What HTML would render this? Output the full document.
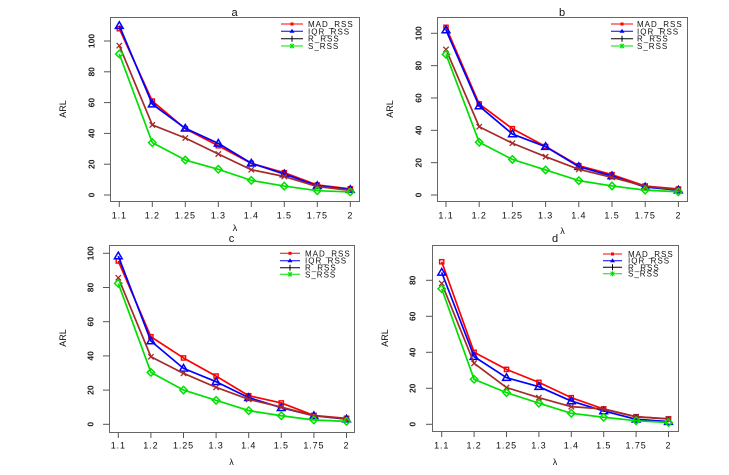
<!DOCTYPE html>
<html><head><meta charset="utf-8">
<style>
html,body{margin:0;padding:0;background:#fff;}
svg{display:block;font-family:"Liberation Sans",sans-serif;}
.xt{font-size:9px;letter-spacing:0.9px;text-anchor:middle;fill:#111;}
.yt{font-size:8.5px;font-weight:bold;text-anchor:middle;fill:#222;}
.ti{font-size:11px;text-anchor:middle;fill:#111;}
.lb{font-size:9px;text-anchor:middle;fill:#111;}
.lg{font-size:8px;letter-spacing:1px;fill:#111;}
</style></head><body>
<svg id="s" width="729" height="475" viewBox="0 0 729 475" xmlns="http://www.w3.org/2000/svg">
<rect width="729" height="475" fill="#fff"/>
<g id="g"></g>

<!-- Panel a text -->
<text class="ti" x="234.5" y="16">a</text>
<text class="lb" x="235" y="231">λ</text>
<text class="lb" transform="rotate(-90 66 109)" x="66" y="109">ARL</text>
<g class="xt">
<text x="119.3" y="218.5">1.1</text><text x="152.3" y="218.5">1.2</text><text x="185.3" y="218.5">1.25</text><text x="218.3" y="218.5">1.3</text><text x="251.3" y="218.5">1.4</text><text x="284.3" y="218.5">1.5</text><text x="317.3" y="218.5">1.75</text><text x="350.3" y="218.5">2</text>
</g>
<g class="yt">
<text transform="rotate(-90 94.4 195)" x="94.4" y="195">0</text>
<text transform="rotate(-90 94.4 164.2)" x="94.4" y="164.2">20</text>
<text transform="rotate(-90 94.4 133.4)" x="94.4" y="133.4">40</text>
<text transform="rotate(-90 94.4 102.6)" x="94.4" y="102.6">60</text>
<text transform="rotate(-90 94.4 71.8)" x="94.4" y="71.8">80</text>
<text transform="rotate(-90 94.4 41)" x="94.4" y="41">100</text>
</g>
<g class="lg">
<text x="308" y="27">MAD_RSS</text><text x="308" y="34.3">IQR_RSS</text><text x="308" y="41.7">R_RSS</text><text x="308" y="49">S_RSS</text>
</g>

<!-- Panel b text -->
<text class="ti" x="562" y="16">b</text>
<text class="lb" x="562.5" y="234">λ</text>
<text class="lb" transform="rotate(-90 393 109)" x="393" y="109">ARL</text>
<g class="xt">
<text x="446" y="218.5">1.1</text><text x="479.2" y="218.5">1.2</text><text x="512.4" y="218.5">1.25</text><text x="545.6" y="218.5">1.3</text><text x="578.8" y="218.5">1.4</text><text x="612" y="218.5">1.5</text><text x="645.2" y="218.5">1.75</text><text x="678.4" y="218.5">2</text>
</g>
<g class="yt">
<text transform="rotate(-90 421.4 195)" x="421.4" y="195">0</text>
<text transform="rotate(-90 421.4 162.7)" x="421.4" y="162.7">20</text>
<text transform="rotate(-90 421.4 130.3)" x="421.4" y="130.3">40</text>
<text transform="rotate(-90 421.4 98)" x="421.4" y="98">60</text>
<text transform="rotate(-90 421.4 65.6)" x="421.4" y="65.6">80</text>
<text transform="rotate(-90 421.4 33.3)" x="421.4" y="33.3">100</text>
</g>
<g class="lg">
<text x="637" y="27">MAD_RSS</text><text x="637" y="34.3">IQR_RSS</text><text x="637" y="41.7">R_RSS</text><text x="637" y="49">S_RSS</text>
</g>

<!-- Panel c text -->
<text class="ti" x="231.5" y="242">c</text>
<text class="lb" x="231.5" y="465">λ</text>
<text class="lb" transform="rotate(-90 66 338)" x="66" y="338">ARL</text>
<g class="xt">
<text x="118.3" y="448.5">1.1</text><text x="150.9" y="448.5">1.2</text><text x="183.5" y="448.5">1.25</text><text x="216.1" y="448.5">1.3</text><text x="248.7" y="448.5">1.4</text><text x="281.3" y="448.5">1.5</text><text x="313.9" y="448.5">1.75</text><text x="346.5" y="448.5">2</text>
</g>
<g class="yt">
<text transform="rotate(-90 93.4 424.3)" x="93.4" y="424.3">0</text>
<text transform="rotate(-90 93.4 390.1)" x="93.4" y="390.1">20</text>
<text transform="rotate(-90 93.4 355.9)" x="93.4" y="355.9">40</text>
<text transform="rotate(-90 93.4 321.7)" x="93.4" y="321.7">60</text>
<text transform="rotate(-90 93.4 287.5)" x="93.4" y="287.5">80</text>
<text transform="rotate(-90 93.4 253.3)" x="93.4" y="253.3">100</text>
</g>
<g class="lg">
<text x="305" y="256.3">MAD_RSS</text><text x="305" y="263.7">IQR_RSS</text><text x="305" y="270.7">R_RSS</text><text x="305" y="277.3">S_RSS</text>
</g>

<!-- Panel d text -->
<text class="ti" x="555" y="242">d</text>
<text class="lb" x="555" y="465">λ</text>
<text class="lb" transform="rotate(-90 388 338)" x="388" y="338">ARL</text>
<g class="xt">
<text x="441.7" y="448.5">1.1</text><text x="474.1" y="448.5">1.2</text><text x="506.5" y="448.5">1.25</text><text x="538.9" y="448.5">1.3</text><text x="571.3" y="448.5">1.4</text><text x="603.7" y="448.5">1.5</text><text x="636.1" y="448.5">1.75</text><text x="668.5" y="448.5">2</text>
</g>
<g class="yt">
<text transform="rotate(-90 415.6 424.3)" x="415.6" y="424.3">0</text>
<text transform="rotate(-90 415.6 388.3)" x="415.6" y="388.3">20</text>
<text transform="rotate(-90 415.6 352.3)" x="415.6" y="352.3">40</text>
<text transform="rotate(-90 415.6 316.3)" x="415.6" y="316.3">60</text>
<text transform="rotate(-90 415.6 280.3)" x="415.6" y="280.3">80</text>
</g>
<g class="lg">
<text x="628" y="257">MAD_RSS</text><text x="628" y="263.7">IQR_RSS</text><text x="628" y="270.3">R_RSS</text><text x="628" y="276.7">S_RSS</text>
</g>
</svg>
<script>
(function(){
var cols=['#ff0000','#0000ff','#a52a2a','#00e000'];
var P=[
 {bx:110,by:17,bw:249,bh:184,x0:119.3,dx:33,y0:195,k:1.54,yt:[0,20,40,60,80,100],
  lx1:281,lx2:303,ly:[24,31.3,38.7,46],
  d:[[108,61,43,32,20.5,14.5,6.5,4],[110,59,43.3,33.5,20.6,13.6,6,3.5],[97,45.5,37,26.6,16.4,12,5.5,3],[91.6,34,22.7,16.7,9.5,5.8,2.8,2]]},
 {bx:437,by:17,bw:250,bh:184,x0:446,dx:33.2,y0:195,k:1.617,yt:[0,20,40,60,80,100],
  lx1:611,lx2:633,ly:[24,31.3,38.7,46],
  d:[[103.7,56.3,41,30,18.1,12.6,5.5,3.7],[102,55,37.7,29.9,17.5,11.8,4.9,3],[90,42.2,32,23.7,15.9,10.9,5.5,3.3],[87,32.6,22,15.5,8.9,5.6,3,2]]},
 {bx:109,by:245,bw:245,bh:187,x0:118.3,dx:32.6,y0:424.3,k:1.71,yt:[0,20,40,60,80,100],
  lx1:280,lx2:300,ly:[253.3,260.7,267.7,274.3],
  d:[[95.5,51.2,38.8,28.2,16.7,12.5,5.2,3.5],[98.4,48.7,32.7,24.9,15.6,9.7,5,3],[85.7,39.5,29.8,21.6,14.6,10.1,5,3.2],[82.4,30.4,20,14,8,5,2.5,1.7]]},
 {bx:432,by:245,bw:246,bh:186,x0:441.7,dx:32.4,y0:424.3,k:1.8,yt:[0,20,40,60,80],
  lx1:603,lx2:622,ly:[254,260.7,267.3,273.7],
  d:[[90.3,40,30.5,23.3,14.8,8.5,4.2,3],[84.4,37.6,25.9,20.9,12.9,7.4,2.8,1.5],[78.3,33.9,20.4,14.8,9.8,8.5,4.2,3],[75.3,25,17.6,11.7,6.1,3.9,2,1]]}
];
var h='';
function f(n){return Math.round(n*100)/100;}
function mk(t,cx,cy,c){
  if(t==0){var r=2.1;return '<rect x="'+f(cx-r)+'" y="'+f(cy-r)+'" width="'+f(2*r)+'" height="'+f(2*r)+'" fill="none" stroke="'+c+'" stroke-width="1.4"/>';}
  if(t==1){var a=3.9;return '<polygon points="'+f(cx)+','+f(cy-a)+' '+f(cx-a)+','+f(cy+a*0.7)+' '+f(cx+a)+','+f(cy+a*0.7)+'" fill="none" stroke="'+c+'" stroke-width="1.5"/>';}
  if(t==2){var b=2.7;return '<path d="M'+f(cx-b)+' '+f(cy-b)+'L'+f(cx+b)+' '+f(cy+b)+'M'+f(cx-b)+' '+f(cy+b)+'L'+f(cx+b)+' '+f(cy-b)+'" stroke="'+c+'" stroke-width="1.3"/>';}
  var q=3.7;return '<polygon points="'+f(cx)+','+f(cy-q)+' '+f(cx+q)+','+f(cy)+' '+f(cx)+','+f(cy+q)+' '+f(cx-q)+','+f(cy)+'" fill="none" stroke="'+c+'" stroke-width="1.5"/>';
}
P.forEach(function(p){
  h+='<rect x="'+p.bx+'.5" y="'+p.by+'.5" width="'+p.bw+'" height="'+p.bh+'" fill="none" stroke="#666" stroke-width="1"/>';
  var bb=p.by+p.bh;
  for(var i=0;i<8;i++){var x=p.x0+p.dx*i;h+='<line x1="'+f(x)+'" y1="'+(bb+0.5)+'" x2="'+f(x)+'" y2="'+(bb+6)+'" stroke="#555" stroke-width="1"/>';}
  p.yt.forEach(function(v){var y=p.y0-p.k*v;h+='<line x1="'+(p.bx-6)+'" y1="'+f(y)+'" x2="'+(p.bx+0.5)+'" y2="'+f(y)+'" stroke="#555" stroke-width="1"/>';});
  p.d.forEach(function(s,j){
    var pts=s.map(function(v,i){return f(p.x0+p.dx*i)+','+f(p.y0-p.k*v);}).join(' ');
    h+='<polyline points="'+pts+'" fill="none" stroke="'+cols[j]+'" stroke-width="1.7" stroke-linejoin="round"/>';
    s.forEach(function(v,i){h+=mk(j,p.x0+p.dx*i,p.y0-p.k*v,cols[j]);});
  });
  var lc=['#ff0000','#0000ff','#000000','#00e000'];
  p.ly.forEach(function(y,j){
    h+='<line x1="'+p.lx1+'" y1="'+y+'" x2="'+p.lx2+'" y2="'+y+'" stroke="'+lc[j]+'" stroke-width="1"/>';
    var cx=(p.lx1+p.lx2)/2;
    if(j==0)h+='<rect x="'+(cx-1.5)+'" y="'+(y-1.5)+'" width="3" height="3" fill="'+lc[j]+'"/>';
    if(j==1)h+='<polygon points="'+cx+','+(y-2.5)+' '+(cx-2.5)+','+(y+1.5)+' '+(cx+2.5)+','+(y+1.5)+'" fill="'+lc[j]+'"/>';
    if(j==2)h+='<line x1="'+cx+'" y1="'+(y-3)+'" x2="'+cx+'" y2="'+(y+3)+'" stroke="#000" stroke-width="1"/>';
    if(j==3)h+='<path d="M'+(cx-2)+' '+(y-2)+'L'+(cx+2)+' '+(y+2)+'M'+(cx-2)+' '+(y+2)+'L'+(cx+2)+' '+(y-2)+'M'+cx+' '+(y-2.5)+'L'+cx+' '+(y+2.5)+'" stroke="'+lc[j]+'" stroke-width="1"/>';
  });
});
document.getElementById('g').insertAdjacentHTML('beforeend',h);
})();
</script>
</body></html>
